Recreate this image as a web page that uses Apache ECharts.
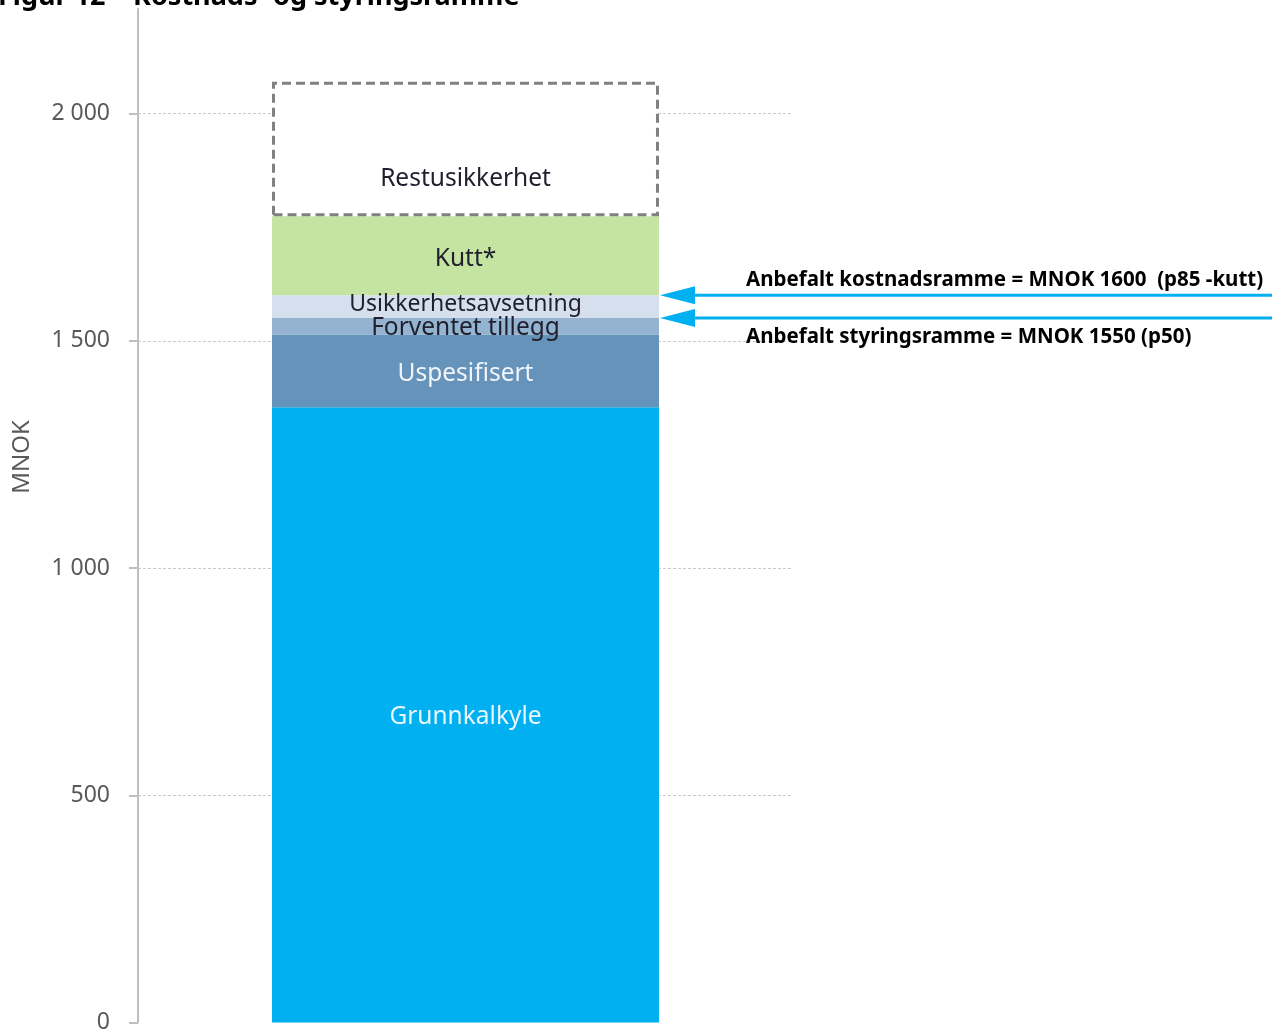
<!DOCTYPE html>
<html>
<head>
<meta charset="utf-8">
<script src="https://cdn.jsdelivr.net/npm/echarts@6/dist/echarts.min.js"></script>
<style>
html,body{margin:0;padding:0;background:#fff;}
#chart{width:1282px;height:1034px;}
</style>
</head>
<body>
<div id="chart"></div>
<script>
// ---- data ----
const categories = ['Prosjekt'];
const segmentNames = ['Grunnkalkyle', 'Uspesifisert', 'Forventet tillegg', 'Usikkerhetsavsetning', 'Kutt*', 'Restusikkerhet'];
const segmentValues = [1354, 160, 36, 50, 174, 296];
const yTicks = [0, 500, 1000, 1500, 2000];
const arrowValues = [1600, 1550];
const arrowTexts = ['Anbefalt kostnadsramme = MNOK 1600  (p85 -kutt)', 'Anbefalt styringsramme = MNOK 1550 (p50)'];
const titleText = 'Figur 12 – Kostnads- og styringsramme';
const axisName = 'MNOK';

// ---- styles ----
const segColors = ['#00B0F0', '#6593B9', '#94B3D0', '#D5DFEE', '#C5E4A2', '#FFFFFF'];
const labelColors = ['#E8F6FD', '#F0F5FA', '#1F1F2E', '#1F1F2E', '#1F1F2E', '#1F1F2E'];
const labelOffsets = [[0, 2], [0, 3], [0, 2], [0, -2], [0, 3], [0, 30]];
const BAR_FRAC = 0.5908;
const labelFont = 'Noto Sans';

const chart = echarts.init(document.getElementById('chart'), null, {renderer: 'canvas'});

const barSeries = segmentNames.map((name, i) => ({
  name: name,
  type: 'bar',
  stack: 'total',
  barWidth: (BAR_FRAC * 100) + '%',
  data: [segmentValues[i]],
  z: 2,
  itemStyle: i === 5 ? {
    color: segColors[i], borderColor: '#808080', borderWidth: 3, borderType: [9, 5]
  } : { color: segColors[i] },
  label: {
    show: true, position: 'inside', formatter: name,
    color: labelColors[i], fontFamily: labelFont, fontSize: i === 3 ? 23 : 24.5,
    offset: labelOffsets[i]
  },
  emphasis: {disabled: true}
}));

const arrowSeries = {
  type: 'custom',
  z: 5,
  clip: false,
  data: arrowValues.map((v, i) => [0, v, i]),
  renderItem: function (params, api) {
    const v = api.value(1);
    const idx = api.value(2);
    const p = api.coord([0, v]);
    const band = api.size([1, 0])[0];
    const right = p[0] + band * BAR_FRAC / 2 + 1;
    const end = api.getWidth() - 10;
    const y = p[1];
    const ty = idx === 0 ? y - 15 : y + 19;
    return {
      type: 'group',
      children: [
        {type: 'line', shape: {x1: right + 20, y1: y, x2: end, y2: y}, style: {stroke: '#00B0F0', lineWidth: 3}},
        {type: 'polygon', shape: {points: [[right, y], [right + 35, y - 9], [right + 35, y + 9]]}, style: {fill: '#00B0F0'}},
        {type: 'text', x: right + 86, y: ty, style: {text: arrowTexts[idx], fill: '#000', font: 'bold 20.5px "Noto Sans"', textAlign: 'left', textVerticalAlign: 'middle'}}
      ]
    };
  }
};

chart.setOption({
  animation: false,
  grid: {left: 138, right: 489, top: 9, bottom: 11, containLabel: false},
  xAxis: {
    type: 'category', data: categories, show: false
  },
  yAxis: {
    type: 'value', min: 0, max: 2230, interval: 500,
    axisLine: {show: true, lineStyle: {color: '#BFBFBF', width: 2}},
    axisTick: {show: true, length: 9, lineStyle: {color: '#BFBFBF', width: 2}},
    splitLine: {show: true, showMaxLine: false, showMinLine: false, lineStyle: {color: '#C8C8C8', type: [3, 2], width: 1}},
    axisLabel: {
      showMaxLabel: false, margin: 28, color: '#595959', fontSize: 23, fontFamily: labelFont,
      formatter: function (v) { return yTicks.indexOf(v) >= 0 ? String(v).replace(/\B(?=(\d{3})+(?!\d))/g, ' ') : ''; }
    }
  },
  graphic: [
    {type: 'text', left: -2, top: -16, style: {text: titleText, font: 'bold 27px "Noto Sans"', fill: '#000'}},
    {type: 'text', x: 22, y: 457, rotation: Math.PI / 2, style: {text: axisName, font: '24px "Noto Sans"', fill: '#595959', textAlign: 'center', textVerticalAlign: 'middle'}}
  ],
  series: barSeries.concat([arrowSeries])
});
</script>
</body>
</html>
